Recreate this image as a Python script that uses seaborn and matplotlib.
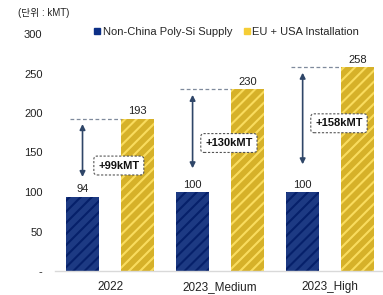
import matplotlib
matplotlib.use("Agg")
import matplotlib.pyplot as plt
import seaborn as sns
import pandas as pd
from matplotlib.lines import Line2D

categories = ["2022", "2023_Medium", "2023_High"]
supply = [94, 100, 100]
install = [193, 230, 258]
series_names = ["Non-China Poly-Si Supply", "EU + USA Installation"]
ytick_vals = [0, 50, 100, 150, 200, 250, 300]
ytick_labels = ["-", "50", "100", "150", "200", "250", "300"]
unit_label = "(단위 : kMT)"

sns.set_theme(style="white")
plt.rcParams["font.family"] = ["Liberation Sans", "Noto Sans CJK KR", "DejaVu Sans"]
plt.rcParams["hatch.linewidth"] = 1.5

df = pd.DataFrame({
    "cat": categories * 2,
    "series": [series_names[0]] * 3 + [series_names[1]] * 3,
    "val": supply + install,
})

face = {series_names[0]: "#0c3394", series_names[1]: "#f3c20c"}
hatchc = {series_names[0]: "#06206a", series_names[1]: "#f9dc5e"}
legend_c = {series_names[0]: "#0c2f86", series_names[1]: "#f5cd36"}

fig = plt.figure(figsize=(3.83, 2.95), dpi=100)
ax = fig.add_axes([55 / 383, 1 - 271 / 295, 1 - 55 / 383, (271 - 34) / 295])

sns.barplot(data=df, x="cat", y="val", hue="series", hue_order=series_names,
            palette=face, width=1.0, gap=0.4, ax=ax, legend=False,
            linewidth=0)

n = len(categories)
for i, p in enumerate(ax.patches[: 2 * n]):
    s = series_names[i // n]
    p.set_hatch("///")
    p.set_edgecolor(hatchc[s])
    p.set_linewidth(0)

ax.set_ylim(0, 300)
ax.set_xlim(-0.5, 2.48)
ax.set_yticks(ytick_vals)
ax.set_yticklabels(ytick_labels)
ax.tick_params(axis="y", length=0, pad=9, labelsize=8, colors="#222222")
ax.tick_params(axis="x", length=0, pad=7, labelsize=8.5, colors="#222222")
ax.set_xlabel("")
ax.set_ylabel("")
for sp in ["left", "right", "top"]:
    ax.spines[sp].set_visible(False)
ax.spines["bottom"].set_color("#d9d9d9")
ax.spines["bottom"].set_linewidth(1)

off = 0.25
for i, c in enumerate(categories):
    ax.text(i - off, supply[i] + 3, f"{supply[i]}", ha="center", va="bottom", fontsize=8, color="#222222")
    ax.text(i + off, install[i] + 3, f"{install[i]}", ha="center", va="bottom", fontsize=8, color="#222222")
    ax.plot([i - off - 0.11, i + off - 0.15], [install[i], install[i]], ls=(0, (3, 2)),
            color="#7f8a9c", lw=0.9)
    ax.annotate("", xy=(i - off, install[i] - 7), xytext=(i - off, supply[i] + 25 + 5 * i),
                arrowprops=dict(arrowstyle="<|-|>", color="#2f4668", lw=1.2,
                                mutation_scale=8, shrinkA=0, shrinkB=0))
    diff = install[i] - supply[i]
    ymid = (supply[i] + install[i]) / 2 + [-10, -3, 8][i]
    ax.text(i + 0.08, ymid, f"+{diff}kMT", ha="center", va="center", fontsize=8,
            fontweight="bold", color="#111111",
            bbox=dict(boxstyle="round,pad=0.4,rounding_size=0.3", fc="white",
                      ec="#555555", ls=(0, (2, 1.5)), lw=0.8))

handles = [Line2D([], [], marker="s", ls="", markersize=5, color=legend_c[s]) for s in series_names]
fig.legend(handles, series_names, loc="center left", bbox_to_anchor=(94 / 383, 1 - 32 / 295),
           ncol=2, frameon=False, fontsize=8, handlelength=0.6, handletextpad=0.2,
           columnspacing=1.0, borderaxespad=0, borderpad=0)

fig.text(18 / 383, 1 - 13 / 295, unit_label, ha="left", va="center", fontsize=7, color="#222222")

fig.savefig("out.png", dpi=100)
